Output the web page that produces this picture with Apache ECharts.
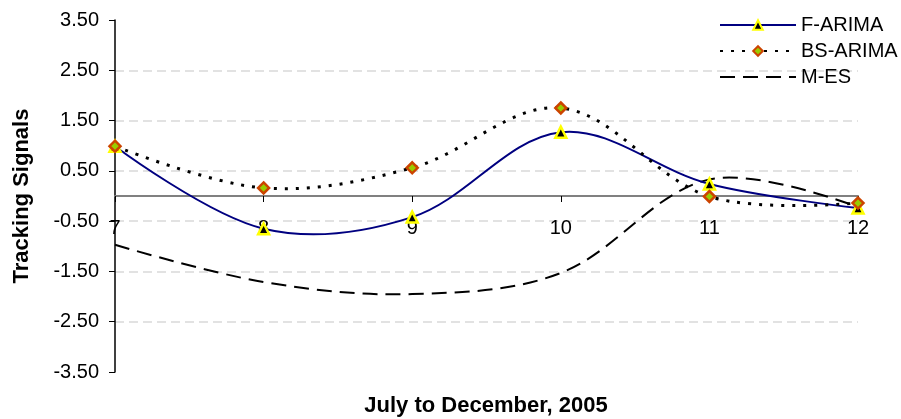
<!DOCTYPE html>
<html>
<head>
<meta charset="utf-8">
<script src="https://cdn.jsdelivr.net/npm/echarts@6/dist/echarts.min.js"></script>
<style>
html,body{margin:0;padding:0;background:#fff;}
#chart{width:901px;height:419px;}
</style>
</head>
<body>
<div id="chart"></div>
<script>
const months = ['7', '8', '9', '10', '11', '12'];
const fArima = [0.99, -0.65, -0.42, 1.27, 0.24, -0.24];
const bsArima = [0.99, 0.16, 0.56, 1.75, -0.01, -0.14];
const mEs = [-0.97, -1.71, -1.95, -1.53, 0.33, -0.22];
const seriesNames = ['F-ARIMA', 'BS-ARIMA', 'M-ES'];

const font = 'Liberation Sans, Arial, sans-serif';
const GRID_TOP = 20, GRID_BOTTOM = 47, H = 419;
const plotH = H - GRID_TOP - GRID_BOTTOM;
const Y_MIN = -3.5, Y_MAX = 3.5;
// shift x axis up so it sits on y = 0
const xOffset = -plotH * (0 - Y_MIN) / (Y_MAX - Y_MIN);

const styles = {
  'F-ARIMA': {color: '#000080', width: 2, type: 'solid'},
  'BS-ARIMA': {color: '#000000', width: 3, type: [3, 8]},
  'M-ES': {color: '#000000', width: 2, type: [15, 8]}
};

// Excel-like smoothed curve drawn through the data via the axis scales
function curve(values, name, z) {
  const ls = styles[name];
  return {
    type: 'custom',
    coordinateSystem: 'cartesian2d',
    data: [[0, values[0]]],
    silent: true,
    z: z,
    renderItem: function (params, api) {
      const pts = values.map((v, i) => api.coord([i, v]));
      return {
        type: 'polyline',
        shape: {points: pts, smooth: 0.35},
        style: {
          fill: null,
          stroke: ls.color,
          lineWidth: ls.width,
          lineDash: ls.type === 'solid' ? null : ls.type
        }
      };
    }
  };
}

const chart = echarts.init(document.getElementById('chart'), null, {renderer: 'canvas'});
chart.setOption({
  animation: false,
  backgroundColor: '#ffffff',
  textStyle: {fontFamily: font, color: '#000'},
  grid: {left: 115, right: 43, top: GRID_TOP, bottom: GRID_BOTTOM, containLabel: false, outerBoundsMode: 'none'},
  legend: {
    orient: 'vertical',
    left: 714,
    top: 10,
    itemWidth: 76,
    itemHeight: 12,
    itemGap: 6,
    textStyle: {fontFamily: font, fontSize: 20, color: '#000'},
    data: [
      {name: seriesNames[0], lineStyle: {opacity: 1}},
      {name: seriesNames[1], lineStyle: {opacity: 1}},
      {name: seriesNames[2], lineStyle: {opacity: 1}, itemStyle: {opacity: 0}}
    ]
  },
  xAxis: {
    type: 'category',
    data: months,
    boundaryGap: false,
    offset: xOffset,
    axisLine: {onZero: false, lineStyle: {color: '#808080', width: 2}},
    axisTick: {show: true, alignWithLabel: true, length: 6, lineStyle: {color: '#000', width: 1}},
    axisLabel: {fontFamily: font, fontSize: 20, color: '#000', margin: 22},
    splitLine: {show: false}
  },
  yAxis: {
    type: 'value',
    min: Y_MIN,
    max: Y_MAX,
    interval: 1,
    name: 'Tracking Signals',
    nameLocation: 'middle',
    nameGap: 82,
    nameTextStyle: {fontFamily: font, fontSize: 22, fontWeight: 'bold', color: '#000'},
    axisLine: {show: true, onZero: false, lineStyle: {color: '#000', width: 1.5}},
    axisTick: {show: true, inside: false, length: 6, lineStyle: {color: '#000', width: 1}},
    axisLabel: {fontFamily: font, fontSize: 20, color: '#000', margin: 16, formatter: v => v.toFixed(2)},
    splitLine: {show: true, showMinLine: false, showMaxLine: false, lineStyle: {color: '#d9d9d9', width: 1.5, type: [9, 5]}}
  },
  graphic: [{
    type: 'text',
    x: 486,
    y: 406,
    style: {text: 'July to December, 2005', font: 'bold 22px ' + font, fill: '#000', textAlign: 'center', textVerticalAlign: 'middle'}
  }],
  series: [
    curve(mEs, 'M-ES', 2),
    curve(fArima, 'F-ARIMA', 3),
    curve(bsArima, 'BS-ARIMA', 4),
    {
      name: seriesNames[0], type: 'line', data: fArima,
      symbol: 'triangle', symbolSize: 11, showSymbol: true,
      lineStyle: {color: styles['F-ARIMA'].color, width: styles['F-ARIMA'].width, opacity: 0},
      itemStyle: {color: '#000000', borderColor: '#ffff00', borderWidth: 2.5},
      z: 5
    },
    {
      name: seriesNames[1], type: 'line', data: bsArima,
      symbol: 'diamond', symbolSize: 11, showSymbol: true,
      lineStyle: {color: styles['BS-ARIMA'].color, width: styles['BS-ARIMA'].width, type: styles['BS-ARIMA'].type, opacity: 0},
      itemStyle: {color: '#99cc00', borderColor: '#cc4400', borderWidth: 2.5},
      z: 6
    },
    {
      name: seriesNames[2], type: 'line', data: mEs,
      symbol: 'none',
      lineStyle: {color: styles['M-ES'].color, width: styles['M-ES'].width, type: styles['M-ES'].type, opacity: 0},
      itemStyle: {color: '#000000'},
      z: 2
    }
  ]
});
</script>
</body>
</html>
